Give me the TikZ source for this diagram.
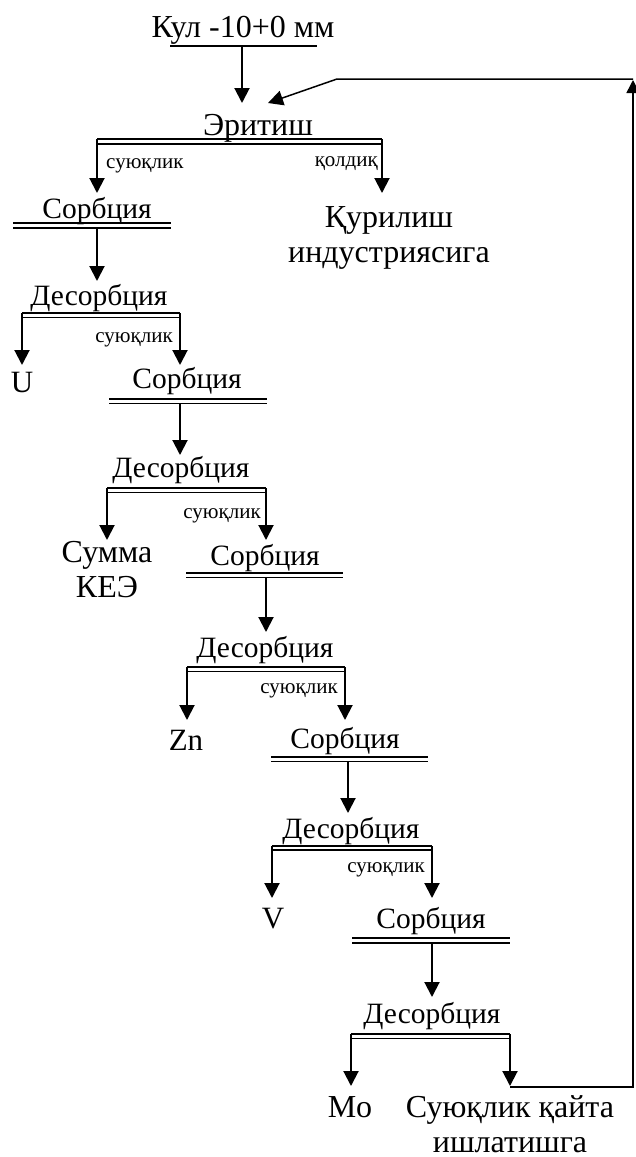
\documentclass[tikz,border=0pt]{standalone}
\usepackage{fontspec}
\setmainfont{Liberation Serif}
\usetikzlibrary{arrows.meta}
\newcommand\dblbar[4]{%
  \draw[bar] (#1,#3) -- (#2,#3);
  \draw[bar] (#1,#3+#4) -- (#2,#3+#4);}
\begin{document}
\begin{tikzpicture}[x=1pt,y=-1pt,
  txt/.style={font=\fontsize{29.5}{35}\selectfont, inner sep=0pt, anchor=base, align=center},
  big/.style={txt, font=\fontsize{32}{35}\selectfont},
  leaf/.style={txt, font=\fontsize{31}{35}\selectfont},
  lbl/.style={font=\fontsize{21}{24}\selectfont, inner sep=0pt},
  arr/.style={line width=2pt, -{Triangle[length=15pt,width=15pt]}},
  bar/.style={line width=1.5pt},
  fb/.style={line width=1.5pt}]
\useasboundingbox (0,0) rectangle (635,1157);

% texts (multi-line nodes are placed at the baseline of their last line)
\node[big] (kul) at (243,37) {Кул -10+0 мм};
\node[big] (erit) at (258,135) {Эритиш};
\node[lbl, anchor=base west] (l0) at (106,168) {суюқлик};
\node[lbl, anchor=base east] (l0r) at (378,166) {қолдиқ};
\node[txt] (s1) at (97,218) {Сорбция};
\node[big] (qur) at (389,262) {Қурилиш\\индустриясига};
\node[txt] (d1) at (99,305) {Десорбция};
\node[lbl, anchor=base east] (l1) at (173,342) {суюқлик};
\node[leaf] (u) at (22,392) {U};
\node[txt] (s2) at (187,388) {Сорбция};
\node[txt] (d2) at (181,477) {Десорбция};
\node[lbl, anchor=base east] (l2) at (261,518) {суюқлик};
\node[big] (kee) at (107,597) {Сумма\\КЕЭ};
\node[txt] (s3) at (265,565) {Сорбция};
\node[txt] (d3) at (265,657) {Десорбция};
\node[lbl, anchor=base east] (l3) at (338,693) {суюқлик};
\node[leaf] (zn) at (186,750) {Zn};
\node[txt] (s4) at (345,748) {Сорбция};
\node[txt] (d4) at (351,838) {Десорбция};
\node[lbl, anchor=base east] (l4) at (425,872) {суюқлик};
\node[leaf] (v) at (273,928) {V};
\node[txt] (s5) at (431,928) {Сорбция};
\node[txt] (d5) at (432,1023) {Десорбция};
\node[big] (mo) at (350,1117) {Mo};
\node[big] (ret) at (510,1152) {Суюқлик қайта\\ишлатишга};

% bars
\draw[line width=2pt] (170,46) -- (317,46);
\dblbar{97}{382}{139}{5}
\dblbar{13}{171}{223}{5}
\dblbar{22}{180}{313}{4.5}
\dblbar{109}{267}{399}{4.5}
\dblbar{107}{266}{488}{4.5}
\dblbar{186}{343}{573}{4.5}
\dblbar{187}{345}{667}{4.5}
\dblbar{271}{428}{757}{4.5}
\dblbar{272}{432}{846}{4}
\dblbar{352}{510}{938}{5}
\dblbar{351}{510}{1034}{4.5}

% coordinates
\coordinate (kulB) at (242,46);  \coordinate (eritT) at (242,103);
\coordinate (e1) at (97,139);    \coordinate (s1T) at (97,193);
\coordinate (e2) at (382,139);   \coordinate (qurT) at (382,193);
\coordinate (s1B) at (97,228);   \coordinate (d1T) at (97,281);
\coordinate (d1L) at (22,313);   \coordinate (uT) at (22,365);
\coordinate (d1R) at (180,313);  \coordinate (s2T) at (180,365);
\coordinate (s2B) at (180,403);  \coordinate (d2T) at (180,455);
\coordinate (d2L) at (107,488);  \coordinate (keeT) at (107,540);
\coordinate (d2R) at (266,488);  \coordinate (s3T) at (266,540);
\coordinate (s3B) at (266,577);  \coordinate (d3T) at (266,632);
\coordinate (d3L) at (187,667);  \coordinate (znT) at (187,720);
\coordinate (d3R) at (345,667);  \coordinate (s4T) at (345,720);
\coordinate (s4B) at (348,761);  \coordinate (d4T) at (348,813);
\coordinate (d4L) at (272,846);  \coordinate (vT) at (272,898);
\coordinate (d4R) at (432,846);  \coordinate (s5T) at (432,898);
\coordinate (s5B) at (432,943);  \coordinate (d5T) at (432,997);
\coordinate (d5L) at (351,1034); \coordinate (moT) at (351,1086);
\coordinate (d5R) at (510,1034); \coordinate (retT) at (510,1086);
\coordinate (fbA) at (510,1087); \coordinate (fbB) at (633,1087);
\coordinate (fbC) at (633,80);   \coordinate (fbD) at (633,79);
\coordinate (fbE) at (337,79);   \coordinate (fbF) at (268,103);

% arrows
\draw[arr] (kulB) -- (eritT);
\draw[arr] (e1) -- (s1T);
\draw[arr] (e2) -- (qurT);
\draw[arr] (s1B) -- (d1T);
\draw[arr] (d1L) -- (uT);
\draw[arr] (d1R) -- (s2T);
\draw[arr] (s2B) -- (d2T);
\draw[arr] (d2L) -- (keeT);
\draw[arr] (d2R) -- (s3T);
\draw[arr] (s3B) -- (d3T);
\draw[arr] (d3L) -- (znT);
\draw[arr] (d3R) -- (s4T);
\draw[arr] (s4B) -- (d4T);
\draw[arr] (d4L) -- (vT);
\draw[arr] (d4R) -- (s5T);
\draw[arr] (s5B) -- (d5T);
\draw[arr] (d5L) -- (moT);
\draw[arr] (d5R) -- (retT);

% feedback loop
\draw[fb, -{Triangle[length=13pt,width=13pt]}] (fbA) -- (fbB) -- (fbC);
\draw[fb, -{Triangle[length=15pt,width=15pt]}] (fbD) -- (fbE) -- (fbF);
\end{tikzpicture}
\end{document}
